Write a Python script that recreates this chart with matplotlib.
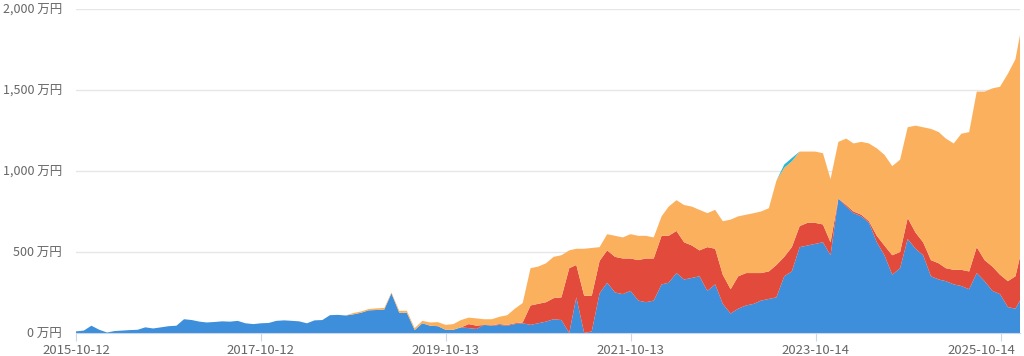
# ============================================
# STACKED AREA CHART: MONTHLY VALUES (万円)
# ============================================

import pandas as pd
import numpy as np
import matplotlib.pyplot as plt
import matplotlib.transforms as mtransforms
from matplotlib.ticker import FuncFormatter

plt.rcParams['font.family'] = ['Noto Sans CJK JP', 'DejaVu Sans']

# ============================================
# DATA (one value per month, from 2015-10-12)
# ============================================

blue = [
    10, 15, 45, 20, 3, 12, 15, 18, 20, 35, 28, 35,
    42, 45, 85, 80, 70, 65, 68, 72, 70, 75, 60, 55,
    60, 62, 75, 78, 75, 72, 60, 78, 80, 110, 112, 108,
    115, 125, 140, 142, 145, 245, 125, 125, 18, 60, 45, 42,
    20, 20, 35, 30, 25, 50, 45, 50, 45, 55, 60, 50,
    60, 70, 85, 80, 0, 220, 0, 10, 245, 310, 250, 240,
    260, 200, 190, 200, 300, 310, 370, 330, 340, 350, 260, 300,
    180, 120, 150, 170, 180, 200, 210, 220, 350, 380, 530, 540,
    550, 560, 480, 830, 780, 740, 720, 680, 560, 480, 360, 400,
    580, 520, 480, 350, 330, 320, 300, 290, 270, 370, 320, 260,
    240, 160, 150, 200,
]

red = [
    0, 0, 0, 0, 0, 0, 0, 0, 0, 0, 0, 0,
    0, 0, 0, 0, 0, 0, 0, 0, 0, 0, 0, 0,
    0, 0, 0, 0, 0, 0, 0, 0, 0, 0, 0, 0,
    0, 0, 0, 0, 0, 0, 0, 0, 0, 0, 0, 0,
    0, 0, 0, 25, 20, 0, 3, 5, 5, 5, 5, 120,
    120, 120, 130, 140, 400, 200, 230, 220, 200, 200, 220, 220,
    200, 250, 270, 260, 300, 290, 260, 230, 200, 160, 270, 220,
    180, 150, 200, 200, 190, 170, 170, 200, 120, 150, 130, 140,
    130, 110, 80, 0, 10, 10, 10, 10, 40, 60, 120, 100,
    130, 100, 80, 100, 100, 80, 90, 100, 110, 160, 130, 150,
    120, 160, 200, 270,
]

teal = [0] * 91 + [0, 20, 20] + [0] * 30

total = [
    10, 15, 45, 20, 3, 12, 15, 18, 20, 35, 28, 35,
    42, 45, 85, 80, 70, 65, 68, 72, 70, 75, 60, 55,
    60, 62, 75, 78, 75, 72, 60, 78, 80, 110, 112, 108,
    123, 133, 148, 152, 155, 250, 137, 137, 30, 75, 65, 67,
    50, 55, 80, 95, 90, 85, 85, 100, 110, 150, 185, 400,
    410, 430, 470, 480, 510, 520, 520, 525, 530, 610, 600, 590,
    610, 600, 600, 590, 720, 780, 820, 790, 780, 760, 740, 760,
    690, 700, 720, 730, 740, 750, 770, 940, 1040, 1080, 1120, 1120,
    1120, 1110, 950, 1180, 1200, 1170, 1180, 1170, 1140, 1100, 1030, 1070,
    1270, 1280, 1270, 1260, 1240, 1200, 1170, 1230, 1240, 1490, 1490, 1510,
    1520, 1600, 1690, 1840,
]

dates = list(pd.date_range('2015-10-12', periods=123, freq=pd.DateOffset(months=1)))
dates.append(pd.Timestamp('2025-12-30'))

tick_dates = ['2015-10-12', '2017-10-12', '2019-10-13',
              '2021-10-13', '2023-10-14', '2025-10-14']

# ============================================
# PREPARE STACK
# ============================================

blue = np.array(blue, dtype=float)
red = np.array(red, dtype=float)
teal = np.array(teal, dtype=float)
total = np.array(total, dtype=float)
orange = np.clip(total - blue - red - teal, 0, None)

colors = ['#3d8edb', '#e24b3b', '#fbb05d', '#27b6d6']

# ============================================
# PLOT
# ============================================

fig = plt.figure(figsize=(10.24, 3.56), dpi=100)
ax = fig.add_axes([76 / 1024, 23 / 356, 944 / 1024, 324 / 356])

ax.stackplot(dates, blue, red, orange, teal, colors=colors, linewidth=0)

ax.set_ylim(0, 2000)
ax.set_yticks([0, 500, 1000, 1500, 2000])
ax.yaxis.set_major_formatter(FuncFormatter(lambda v, p: f"{int(v):,} 万円"))
ax.set_xlim(pd.Timestamp('2015-10-12'), pd.Timestamp('2025-12-30'))
ax.set_xticks([pd.Timestamp(d) for d in tick_dates])
ax.set_xticklabels(tick_dates)

ax.grid(axis='y', color='#e6e6e6', linewidth=1)
ax.set_axisbelow(True)

for s in ['top', 'right', 'left']:
    ax.spines[s].set_visible(False)
ax.spines['bottom'].set_color('#ccd6eb')

ax.tick_params(axis='y', length=0, pad=10, labelsize=9, labelcolor='#666666')
ax.tick_params(axis='x', length=6, color='#ccd6eb', pad=2,
               labelsize=9.5, labelcolor='#666666')

# keep last date label inside the figure (shifted left like the original)
last = ax.get_xticklabels()[-1]
last.set_ha('right')
last.set_transform(last.get_transform() +
                   mtransforms.ScaledTranslation(15 / 100, 0, fig.dpi_scale_trans))

plt.savefig("out.png", dpi=100)
